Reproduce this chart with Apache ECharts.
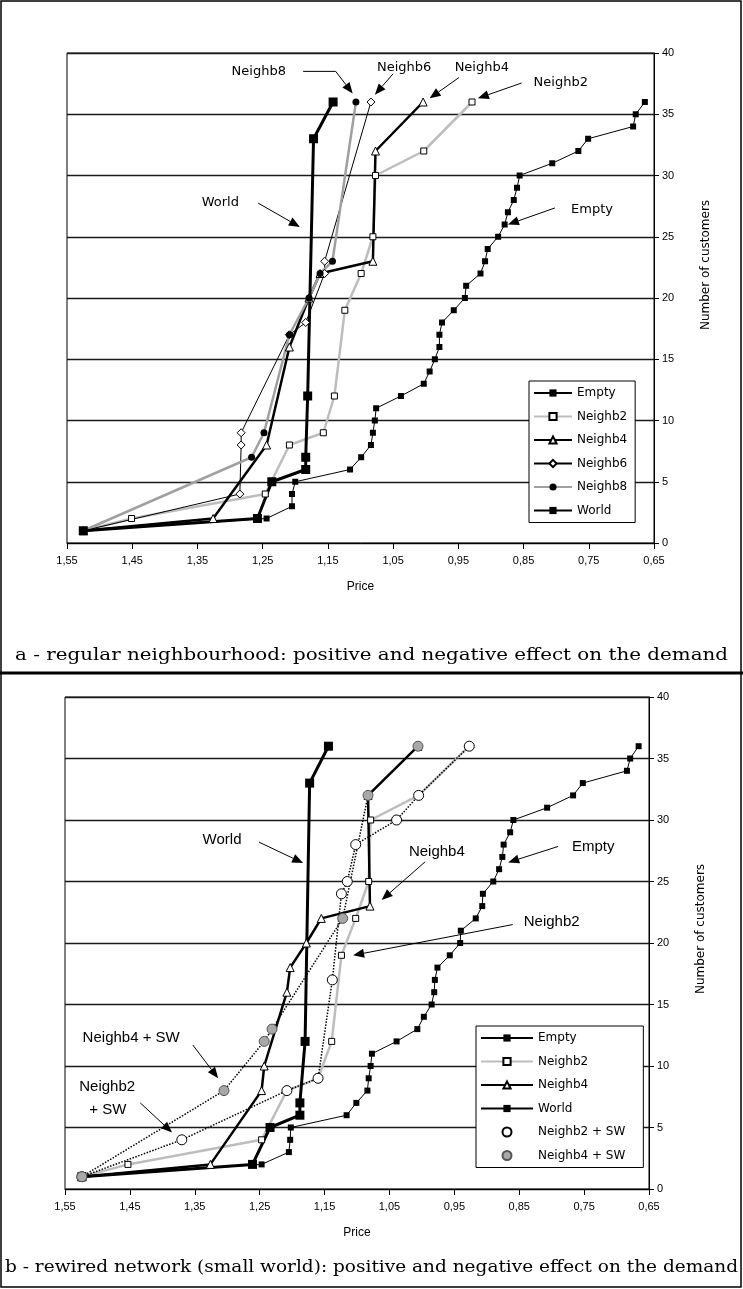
<!DOCTYPE html>
<html><head><meta charset="utf-8">
<script src="https://cdn.jsdelivr.net/npm/echarts@6/dist/echarts.min.js"></script>
<style>html,body{margin:0;padding:0;background:#fff}#c{width:743px;height:1289px}</style>
</head><body><div id="c"></div>
<script>
// ---------- DATA (price, number of customers) ----------
const priceTicks = [1.55,1.45,1.35,1.25,1.15,1.05,0.95,0.85,0.75,0.65];
const customerTicks = [0,5,10,15,20,25,30,35,40];

// Panel a
const aEmpty = [[1.525,1],[1.244,2],[1.205,3],[1.205,4],[1.200,5],[1.116,6],[1.099,7],[1.084,8],[1.081,9],[1.078,10],[1.076,11],[1.038,12],[1.003,13],[0.994,14],[0.986,15],[0.979,16],[0.979,17],[0.975,18],[0.957,19],[0.940,20],[0.938,21],[0.916,22],[0.909,23],[0.905,24],[0.889,25],[0.879,26],[0.874,27],[0.865,28],[0.860,29],[0.856,30],[0.806,31],[0.766,32],[0.751,33],[0.682,34],[0.678,35],[0.664,36]];
const aNeighb2 = [[1.525,1],[1.451,2],[1.246,4],[1.209,8],[1.157,9],[1.140,12],[1.124,19],[1.099,22],[1.081,25],[1.077,30],[1.003,32],[0.929,36]];
const aNeighb4 = [[1.525,1],[1.326,2],[1.244,8],[1.209,16],[1.179,20],[1.162,22],[1.081,23],[1.077,32],[1.004,36]];
const aNeighb6 = [[1.525,1],[1.285,4],[1.283,8],[1.283,9],[1.209,17],[1.184,18],[1.155,22],[1.155,23],[1.084,36]];
const aNeighb8 = [[1.525,1],[1.267,7],[1.248,9],[1.209,17],[1.179,20],[1.162,22],[1.143,23],[1.107,36]];
const aWorld = [[1.525,1],[1.258,2],[1.236,5],[1.184,6],[1.184,7],[1.181,12],[1.172,33],[1.142,36]];

// Panel b
const bEmpty = [[1.524,1],[1.247,2],[1.205,3],[1.203,4],[1.202,5],[1.116,6],[1.101,7],[1.084,8],[1.082,9],[1.079,10],[1.077,11],[1.039,12],[1.007,13],[0.997,14],[0.985,15],[0.981,16],[0.980,17],[0.976,18],[0.957,19],[0.941,20],[0.940,21],[0.917,22],[0.907,23],[0.906,24],[0.890,25],[0.881,26],[0.876,27],[0.874,28],[0.864,29],[0.859,30],[0.807,31],[0.767,32],[0.752,33],[0.684,34],[0.679,35],[0.666,36]];
const bNeighb2 = [[1.524,1],[1.453,2],[1.247,4],[1.208,8],[1.160,9],[1.139,12],[1.124,19],[1.102,22],[1.082,25],[1.079,30],[1.005,32],[0.927,36]];
const bNeighb4 = [[1.524,1],[1.326,2],[1.247,8],[1.243,10],[1.208,16],[1.203,18],[1.178,20],[1.155,22],[1.080,23],[1.083,32],[1.006,36]];
const bWorld = [[1.524,1],[1.261,2],[1.234,5],[1.188,6],[1.188,7],[1.180,12],[1.173,33],[1.144,36]];
const bNeighb2SW = [[1.524,1],[1.370,4],[1.208,8],[1.160,9],[1.138,17],[1.124,24],[1.115,25],[1.102,28],[1.039,30],[1.005,32],[0.927,36]];
const bNeighb4SW = [[1.524,1],[1.305,8],[1.243,12],[1.231,13],[1.122,22],[1.083,32],[1.006,36]];

// Annotations: label position and arrow path in data coordinates (price, customers)
const aNotes = [
  {text:'Neighb8', at:[1.256,38.5], path:[[1.188,38.5],[1.138,38.5],[1.112,36.7]]},
  {text:'Neighb6', at:[1.033,38.8], path:[[1.050,38.3],[1.078,36.6]]},
  {text:'Neighb4', at:[0.914,38.8], path:[[0.949,38.0],[0.994,36.3]]},
  {text:'Neighb2', at:[0.793,37.55], path:[[0.853,37.55],[0.920,36.3]]},
  {text:'Empty', at:[0.745,27.2], path:[[0.802,27.35],[0.874,26.0]]},
  {text:'World', at:[1.315,27.8], path:[[1.257,27.75],[1.193,25.8]]}
];
const bNotes = [
  {text:'World', at:[1.308,28.35], path:[[1.251,28.2],[1.183,26.5]]},
  {text:'Neighb4', at:[0.977,27.4], path:[[0.995,26.6],[1.062,23.5]]},
  {text:'Empty', at:[0.736,27.8], path:[[0.790,27.85],[0.867,26.55]]},
  {text:'Neighb2', at:[0.800,21.7], path:[[0.860,21.5],[1.106,19.0]]},
  {text:'Neighb4 + SW', at:[1.448,12.3], path:[[1.353,11.7],[1.314,9.0]]},
  {text:'Neighb2', at:[1.485,8.3], path:null},
  {text:'+ SW', at:[1.484,6.4], path:[[1.434,7.0],[1.385,4.6]]}
];

// ---------- CHART ----------
const SANS = 'Liberation Sans, Arial, sans-serif';
const LEG = 'DejaVu Sans, sans-serif';
const chart = echarts.init(document.getElementById('c'), null, {renderer:'canvas'});
const fmtPrice = v => (Math.round(v*100)/100).toFixed(2).replace('.', ',');

const grids = [
  {left:67, top:53, width:587, height:490},
  {left:65, top:697, width:584, height:492}
];

function xAx(gi){
  return {gridIndex:gi, type:'value', min:0.65, max:1.55, interval:0.1, inverse:true,
    name:'Price', nameLocation:'middle', nameGap:38,
    nameTextStyle:{fontFamily:SANS, fontSize:12, color:'#000'},
    axisLine:{show:true, onZero:false, lineStyle:{color:'#000', width:1}},
    axisTick:{show:true, length:6, lineStyle:{color:'#000'}},
    axisLabel:{formatter:fmtPrice, fontFamily:SANS, fontSize:11, color:'#000', margin:12},
    splitLine:{show:false}};
}
function yAx(gi, padShift){
  return {gridIndex:gi, type:'value', position:'right', min:0, max:40, interval:5,
    name:'Number of customers', nameLocation:'middle', nameGap:46, nameRotate:90,
    nameTextStyle:{fontFamily:LEG, fontSize:12, color:'#000', padding:[0,0,0,padShift]},
    axisLine:{show:true, lineStyle:{color:'#000', width:1}},
    axisTick:{show:true, length:5, lineStyle:{color:'#000'}},
    axisLabel:{fontFamily:SANS, fontSize:11, color:'#000', margin:8},
    splitLine:{show:true, lineStyle:{color:'#1a1a1a', width:1.3}}};
}

const ST = {
  'Empty':   {symbol:'rect', symbolSize:6, itemStyle:{color:'#000'}, lineStyle:{color:'#000', width:1}},
  'Neighb2': {symbol:'rect', symbolSize:6, itemStyle:{color:'#fff', borderColor:'#000', borderWidth:1}, lineStyle:{color:'#bdbdbd', width:2.5}},
  'Neighb4': {symbol:'triangle', symbolSize:8, itemStyle:{color:'#fff', borderColor:'#000', borderWidth:1}, lineStyle:{color:'#000', width:2.5}},
  'Neighb6': {symbol:'diamond', symbolSize:8, itemStyle:{color:'#fff', borderColor:'#000', borderWidth:1}, lineStyle:{color:'#000', width:1}},
  'Neighb8': {symbol:'circle', symbolSize:7, itemStyle:{color:'#000'}, lineStyle:{color:'#a0a0a0', width:2.5}},
  'World':   {symbol:'rect', symbolSize:9, itemStyle:{color:'#000'}, lineStyle:{color:'#000', width:3}},
  'Neighb2 + SW': {symbol:'circle', symbolSize:10, itemStyle:{color:'#fff', borderColor:'#000', borderWidth:1}, lineStyle:{color:'#000', width:1.5, type:'dotted'}},
  'Neighb4 + SW': {symbol:'circle', symbolSize:10, itemStyle:{color:'#a8a8a8', borderColor:'#555', borderWidth:1}, lineStyle:{color:'#000', width:1.5, type:'dotted'}}
};
function ser(name, data, gi, z){
  const s = ST[name];
  return {type:'line', name, data, xAxisIndex:gi, yAxisIndex:gi, z:z||2,
    symbol:s.symbol, symbolSize:s.symbolSize, showSymbol:true, itemStyle:s.itemStyle,
    lineStyle:s.lineStyle, animation:false, silent:true, clip:false,
    emphasis:{disabled:true}};
}

const series = [
  ser('Empty', aEmpty, 0), ser('Neighb2', aNeighb2, 0), ser('Neighb4', aNeighb4, 0),
  ser('Neighb6', aNeighb6, 0), ser('Neighb8', aNeighb8, 0), ser('World', aWorld, 0),
  ser('Empty', bEmpty, 1), ser('Neighb2', bNeighb2, 1), ser('Neighb4', bNeighb4, 1),
  ser('World', bWorld, 1), ser('Neighb2 + SW', bNeighb2SW, 1), ser('Neighb4 + SW', bNeighb4SW, 1)
];

const legendBase = {orient:'vertical', backgroundColor:'#fff', borderColor:'#000', borderWidth:1,
  itemHeight:9, itemGap:9.5, selectedMode:false,
  textStyle:{fontFamily:LEG, fontSize:12, lineHeight:14, color:'#000'}};

chart.setOption({
  animation:false,
  backgroundColor:'#fff',
  grid: grids.map(g => Object.assign({show:true, borderColor:'#000', borderWidth:1, backgroundColor:'#fff'}, g)),
  xAxis:[xAx(0), xAx(1)],
  yAxis:[yAx(0, 66), yAx(1, 28)],
  legend:[
    Object.assign({}, legendBase, {left:529, top:381, width:105, padding:[5,8,5,4], itemWidth:38,
      data:['Empty','Neighb2','Neighb4','Neighb6','Neighb8','World']}),
    Object.assign({}, legendBase, {left:476, top:1026, padding:[5,18,5,4], itemWidth:52,
      data:['Empty','Neighb2','Neighb4','World',{name:'Neighb2 + SW', icon:'circle'},{name:'Neighb4 + SW', icon:'circle'}]})
  ],
  series
});

// ---------- decorations: frame, captions, annotations ----------
function arrowGraphics(notes, gi, font){
  const out = [];
  notes.forEach(n => {
    const p = chart.convertToPixel({gridIndex:gi}, n.at);
    out.push({type:'text', x:p[0], y:p[1], silent:true, z:20,
      style:{text:n.text, font:font, fill:'#000', align:'center', verticalAlign:'middle'}});
    if (n.path){
      const pts = n.path.map(q => chart.convertToPixel({gridIndex:gi}, q));
      const a = pts[pts.length-2], b = pts[pts.length-1];
      const dx = b[0]-a[0], dy = b[1]-a[1], L = Math.hypot(dx,dy), ux = dx/L, uy = dy/L;
      const hl = 11, hw = 4.5;
      const base = [b[0]-ux*hl, b[1]-uy*hl];
      const linePts = pts.slice(0,-1).concat([base]);
      out.push({type:'polyline', silent:true, z:20, shape:{points:linePts}, style:{stroke:'#000', lineWidth:1, fill:null}});
      out.push({type:'polygon', silent:true, z:20, shape:{points:[b, [base[0]-uy*hw, base[1]+ux*hw], [base[0]+uy*hw, base[1]-ux*hw]]}, style:{fill:'#000'}});
    }
  });
  return out;
}

const SERIF = '17px "DejaVu Serif", "Liberation Serif", serif';
const mctx = document.createElement('canvas').getContext('2d');
function captionText(text, left, right, y){
  mctx.font = SERIF;
  const w = mctx.measureText(text).width;
  return {type:'text', silent:true, z:30, x:(left+right)/2, y:y, scaleX:(right-left)/w,
    style:{text:text, font:SERIF, fill:'#000', align:'center', verticalAlign:'middle'}};
}
const graphics = [
  {type:'rect', silent:true, z:30, shape:{x:1, y:1, width:740, height:1286}, style:{stroke:'#000', lineWidth:1.5, fill:null}},
  {type:'line', silent:true, z:30, shape:{x1:0, y1:673, x2:743, y2:673}, style:{stroke:'#000', lineWidth:3}},
  captionText('a - regular neighbourhood: positive and negative effect on the demand', 15, 728, 656),
  captionText('b - rewired network (small world): positive and negative effect on the demand', 5, 738, 1268)
].concat(arrowGraphics(aNotes, 0, '13px "DejaVu Sans", sans-serif'))
 .concat(arrowGraphics(bNotes, 1, '15px "Liberation Sans", Arial, sans-serif'));

chart.setOption({graphic: graphics});
</script></body></html>
